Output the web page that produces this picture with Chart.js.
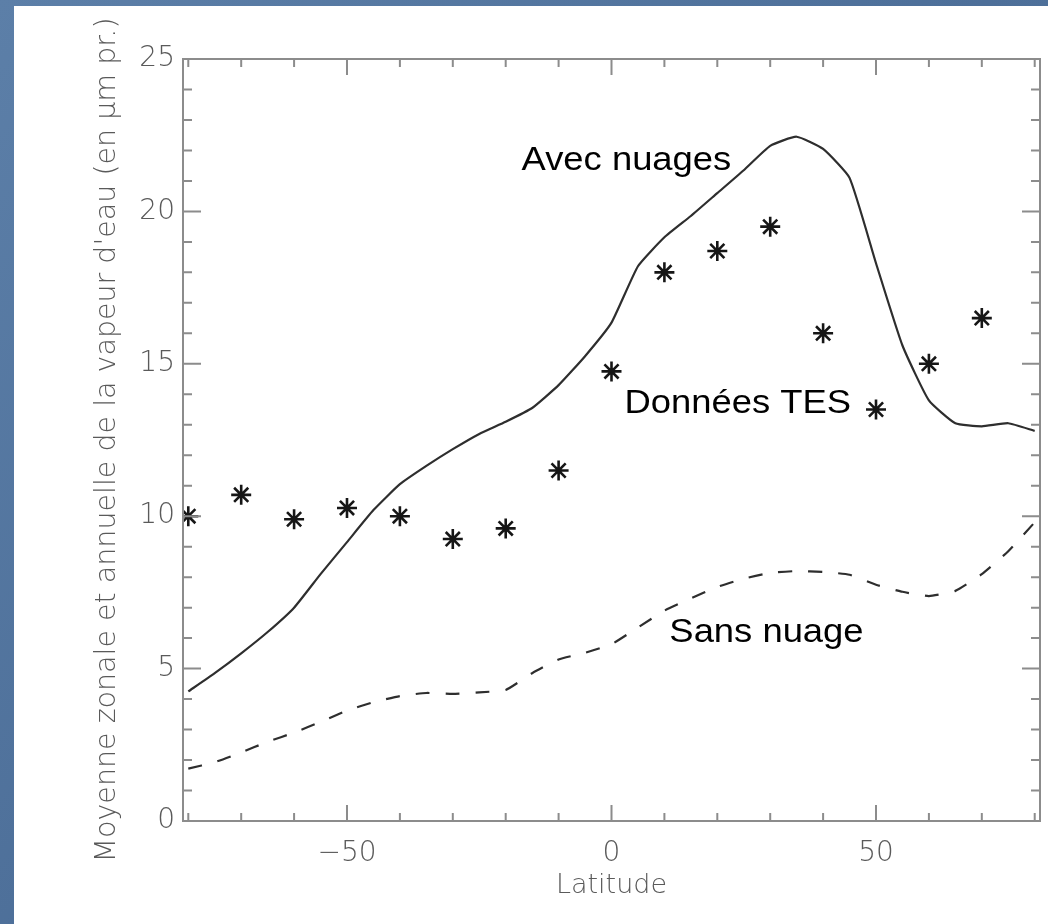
<!DOCTYPE html>
<html lang="fr">
<head>
<meta charset="utf-8">
<title>Vapeur d'eau - moyenne zonale</title>
<script src="https://cdn.jsdelivr.net/npm/chart.js@4.4.1/dist/chart.umd.min.js"></script>
<style>
    html, body { margin: 0; padding: 0; width: 1048px; height: 924px; overflow: hidden; }
    body { background: linear-gradient(135deg, #5c7fa8 0%, #4d6f99 50%, #5a7ca4 100%); position: relative; }
    #fond { position: absolute; left: 14px; top: 6px; right: 0; bottom: 0; background: #fff; }
    #cadre { position: absolute; left: 0; top: 0; width: 1048px; height: 924px; }
</style>
</head>
<body>
<div id="fond"></div>
<div id="cadre"><canvas id="graphe"></canvas></div>
<script>
// Latitudes du modèle (tous les 5 degrés)
const latitudes = [-80, -75, -70, -65, -60, -55, -50, -45, -40, -35, -30, -25, -20, -15, -10, -5,
    0, 5, 10, 15, 20, 25, 30, 35, 40, 45, 50, 55, 60, 65, 70, 75, 80];

// Modèle avec nuages (trait plein)
const avecNuages = [4.25, 4.85, 5.5, 6.2, 7.0, 8.1, 9.15, 10.2, 11.05, 11.65, 12.2, 12.7, 13.1, 13.55, 14.3, 15.25,
    16.35, 18.2, 19.15, 19.85, 20.6, 21.35, 22.15, 22.45, 22.05, 21.1, 18.3, 15.6, 13.8, 13.05, 12.95, 13.05, 12.8];

// Modèle sans nuage (tirets)
const sansNuage = [1.72, 1.93, 2.25, 2.6, 2.9, 3.25, 3.62, 3.9, 4.1, 4.2, 4.17, 4.22, 4.3, 4.85, 5.3, 5.52,
    5.8, 6.35, 6.9, 7.3, 7.68, 7.95, 8.14, 8.2, 8.17, 8.08, 7.75, 7.52, 7.38, 7.55, 8.1, 8.85, 9.8];

// Données TES (astérisques)
const latitudesTES = [-80, -70, -60, -50, -40, -30, -20, -10, 0, 10, 20, 30, 40, 50, 60, 70];
const donneesTES = [10.0, 10.7, 9.9, 10.27, 10.0, 9.25, 9.6, 11.5, 14.75, 18.0, 18.7, 19.5, 16.0, 13.5, 15.0, 16.5];

// Graduations
const ticksX = [-50, 0, 50];
const ticksY = [0, 5, 10, 15, 20, 25];

// Étiquettes dans le graphe
const etiquettes = [
    { texte: 'Avec nuages', lat: -17.0, val: 21.36 },
    { texte: 'Données TES', lat: 2.45, val: 13.39 },
    { texte: 'Sans nuage', lat: 10.94, val: 5.87 }
];

const gris = '#8c8c8c';
const texteGris = '#5a5a5a';
const policeAxes = 'DejaVu Sans';

function points(xs, ys) {
    return xs.map((x, i) => ({ x: x, y: ys[i] }));
}

// Cadre et graduations tournées vers l'intérieur, comme sur la figure IDL
const cadrePlugin = {
    id: 'cadreIDL',
    afterDatasetsDraw(chart) {
        const { ctx, chartArea: a, scales: { x, y } } = chart;
        ctx.save();
        ctx.strokeStyle = gris;
        ctx.lineWidth = 2;
        ctx.strokeRect(a.left, a.top, a.right - a.left, a.bottom - a.top);
        ctx.beginPath();
        for (let v = -80; v <= 80; v += 10) {
            const px = x.getPixelForValue(v);
            const l = ticksX.includes(v) ? 16 : 8;
            ctx.moveTo(px, a.bottom); ctx.lineTo(px, a.bottom - l);
            ctx.moveTo(px, a.top); ctx.lineTo(px, a.top + l);
        }
        for (let v = 0; v <= 25; v++) {
            const py = y.getPixelForValue(v);
            const l = ticksY.includes(v) ? 18 : 9;
            ctx.moveTo(a.left, py); ctx.lineTo(a.left + l, py);
            ctx.moveTo(a.right, py); ctx.lineTo(a.right - l, py);
        }
        ctx.stroke();
        ctx.restore();
    }
};

const etiquettesPlugin = {
    id: 'etiquettes',
    afterDatasetsDraw(chart) {
        const { ctx, scales: { x, y } } = chart;
        ctx.save();
        ctx.fillStyle = '#000';
        ctx.font = '34px "Liberation Sans", Arial, sans-serif';
        ctx.textBaseline = 'alphabetic';
        etiquettes.forEach(e => {
            ctx.save();
            ctx.translate(x.getPixelForValue(e.lat), y.getPixelForValue(e.val));
            ctx.scale(1.07, 1);
            ctx.fillText(e.texte, 0, 0);
            ctx.restore();
        });
        ctx.restore();
    }
};

new Chart(document.getElementById('graphe'), {
    type: 'line',
    data: {
        datasets: [{
            label: 'Données TES',
            data: points(latitudesTES, donneesTES),
            showLine: false,
            pointStyle: 'star',
            pointRadius: 10,
            pointBorderWidth: 2.6,
            pointBorderColor: '#161616',
            pointBackgroundColor: '#161616',
            clip: 0
        }, {
            label: 'Avec nuages',
            data: points(latitudes, avecNuages),
            borderColor: '#2e2e2e',
            borderWidth: 2.2,
            pointRadius: 0,
            tension: 0.15,
            fill: false
        }, {
            label: 'Sans nuage',
            data: points(latitudes, sansNuage),
            borderColor: '#2e2e2e',
            borderWidth: 2.2,
            borderDash: [14, 16],
            pointRadius: 0,
            tension: 0.15,
            fill: false
        }]
    },
    options: {
        responsive: true,
        maintainAspectRatio: false,
        animation: false,
        layout: { autoPadding: false, padding: { left: 0, top: 59, right: 8, bottom: 0 } },
        plugins: {
            legend: { display: false },
            tooltip: { enabled: false }
        },
        scales: {
            x: {
                type: 'linear',
                min: -81,
                max: 81,
                afterBuildTicks: s => { s.ticks = ticksX.map(v => ({ value: v })); },
                afterFit: s => { s.height = 103; s.paddingLeft = 0; s.paddingRight = 0; },
                grid: { display: false, drawTicks: false },
                border: { display: false },
                ticks: {
                    padding: 16,
                    color: texteGris,
                    font: { family: policeAxes, size: 28, weight: '200' },
                    callback: v => (v < 0 ? '\u2212' + Math.abs(v) : String(v))
                },
                title: {
                    display: true,
                    text: 'Latitude',
                    color: texteGris,
                    font: { family: policeAxes, size: 27, weight: '200' },
                    padding: { top: 0, bottom: 22 }
                }
            },
            y: {
                min: 0,
                max: 25,
                afterBuildTicks: s => { s.ticks = ticksY.map(v => ({ value: v })); },
                afterFit: s => { s.width = 183; s.paddingTop = 0; s.paddingBottom = 0; },
                grid: { display: false, drawTicks: false },
                border: { display: false },
                ticks: {
                    padding: 8,
                    color: texteGris,
                    font: { family: policeAxes, size: 28, weight: '200' }
                },
                title: {
                    display: true,
                    text: "Moyenne zonale et annuelle de la vapeur d'eau (en \u00b5m pr.)",
                    color: texteGris,
                    font: { family: policeAxes, size: 28.5, weight: '200' },
                    padding: { top: 90, bottom: 0 }
                }
            }
        }
    },
    plugins: [cadrePlugin, etiquettesPlugin]
});
</script>
</body>
</html>
